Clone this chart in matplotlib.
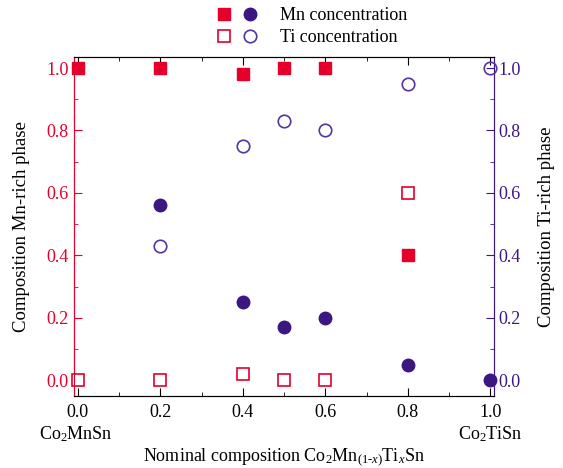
"""
Phase composition of Co2Mn(1-x)TixSn: Mn-rich and Ti-rich phases
"""

import matplotlib
matplotlib.use('Agg')
import matplotlib.pyplot as plt
from matplotlib.legend_handler import HandlerTuple
from matplotlib.ticker import MultipleLocator

plt.rcParams['font.family'] = 'Liberation Serif'
plt.rcParams['mathtext.fontset'] = 'custom'
plt.rcParams['mathtext.rm'] = 'Liberation Serif'
plt.rcParams['mathtext.it'] = 'Liberation Serif:italic'
plt.rcParams['font.size'] = 13

RED = '#e4002b'
PURPLE = '#3d1780'
PURPLE_OPEN = '#5535a0'

# Mn-rich phase (left axis)
x_mnrich = [0.0, 0.2, 0.4, 0.5, 0.6, 0.8]
mn_in_mnrich = [1.0, 1.0, 0.98, 1.0, 1.0, 0.40]
ti_in_mnrich = [0.0, 0.0, 0.02, 0.0, 0.0, 0.60]

# Ti-rich phase (right axis)
x_tirich = [0.2, 0.4, 0.5, 0.6, 0.8, 1.0]
mn_in_tirich = [0.56, 0.25, 0.17, 0.20, 0.05, 0.0]
ti_in_tirich = [0.43, 0.75, 0.83, 0.80, 0.95, 1.0]

x_ticks = [0.0, 0.2, 0.4, 0.6, 0.8, 1.0]
y_ticks = [0.0, 0.2, 0.4, 0.6, 0.8, 1.0]

fig = plt.figure(figsize=(5.63, 4.68), dpi=100)
ax = fig.add_axes([0.131, 0.154, 0.746, 0.724])
ax2 = ax.twinx()

sq_fill, = ax.plot(x_mnrich, mn_in_mnrich, 's', color=RED, ms=8, clip_on=False, zorder=5)
sq_open, = ax.plot(x_mnrich, ti_in_mnrich, 's', mfc='white', mec=RED, mew=1.2,
                   ms=8, clip_on=False, zorder=5)
ci_fill, = ax2.plot(x_tirich, mn_in_tirich, 'o', color=PURPLE, ms=9, clip_on=False, zorder=5)
ci_open, = ax2.plot(x_tirich, ti_in_tirich, 'o', mfc='none', mec=PURPLE_OPEN, mew=1.2,
                    ms=9, clip_on=False, zorder=5)

for a in (ax, ax2):
    a.set_xlim(-0.01, 1.008)
    a.set_ylim(-0.05, 1.035)
    a.yaxis.set_major_locator(MultipleLocator(0.2))
    a.yaxis.set_minor_locator(MultipleLocator(0.1))

ax.set_xticks(x_ticks)
ax.set_xticklabels(['%.1f' % v for v in x_ticks])
ax.xaxis.set_minor_locator(MultipleLocator(0.1))
ax.set_yticks(y_ticks)
ax.set_yticklabels(['%.1f' % v for v in y_ticks])
ax2.set_yticks(y_ticks)
ax2.set_yticklabels(['%.1f' % v for v in y_ticks])

ax.tick_params(axis='x', which='both', direction='in', top=True, colors='black', pad=6)
ax.tick_params(axis='x', which='major', length=6)
ax.tick_params(axis='x', which='minor', length=3)
ax.tick_params(axis='y', which='both', direction='in', colors=RED, labelcolor=RED)
ax.tick_params(axis='y', which='major', length=6)
ax.tick_params(axis='y', which='minor', length=3)
ax2.tick_params(axis='y', which='both', direction='in', colors=PURPLE, labelcolor=PURPLE)
ax2.tick_params(axis='y', which='major', length=6)
ax2.tick_params(axis='y', which='minor', length=3)

ax2.spines['left'].set_color(RED)
ax2.spines['right'].set_color(PURPLE)
ax.spines['left'].set_color(RED)
ax.spines['right'].set_color(PURPLE)

ax.set_ylabel('Composition Mn-rich phase', fontsize=13.5, labelpad=12)
ax2.set_ylabel('Composition Ti-rich phase', fontsize=13.5, labelpad=12)
ax.set_xlabel('Nominal composition Co$_2$Mn$_{(1\\text{-}x)}$Ti$_{x}$Sn', labelpad=18)

ax.text(-0.005, -0.172, 'Co$_2$MnSn', ha='center', va='center',
        transform=ax.transData, clip_on=False)
ax.text(1.0, -0.172, 'Co$_2$TiSn', ha='center', va='center',
        transform=ax.transData, clip_on=False)

fig.legend([(sq_fill, ci_fill), (sq_open, ci_open)],
           ['Mn concentration', 'Ti concentration'],
           handler_map={tuple: HandlerTuple(ndivide=None, pad=0.6)},
           loc='upper center', bbox_to_anchor=(0.555, 1.02), frameon=False,
           handlelength=2.2, handletextpad=1.3, labelspacing=0.3)

fig.savefig('out.png', dpi=100)
